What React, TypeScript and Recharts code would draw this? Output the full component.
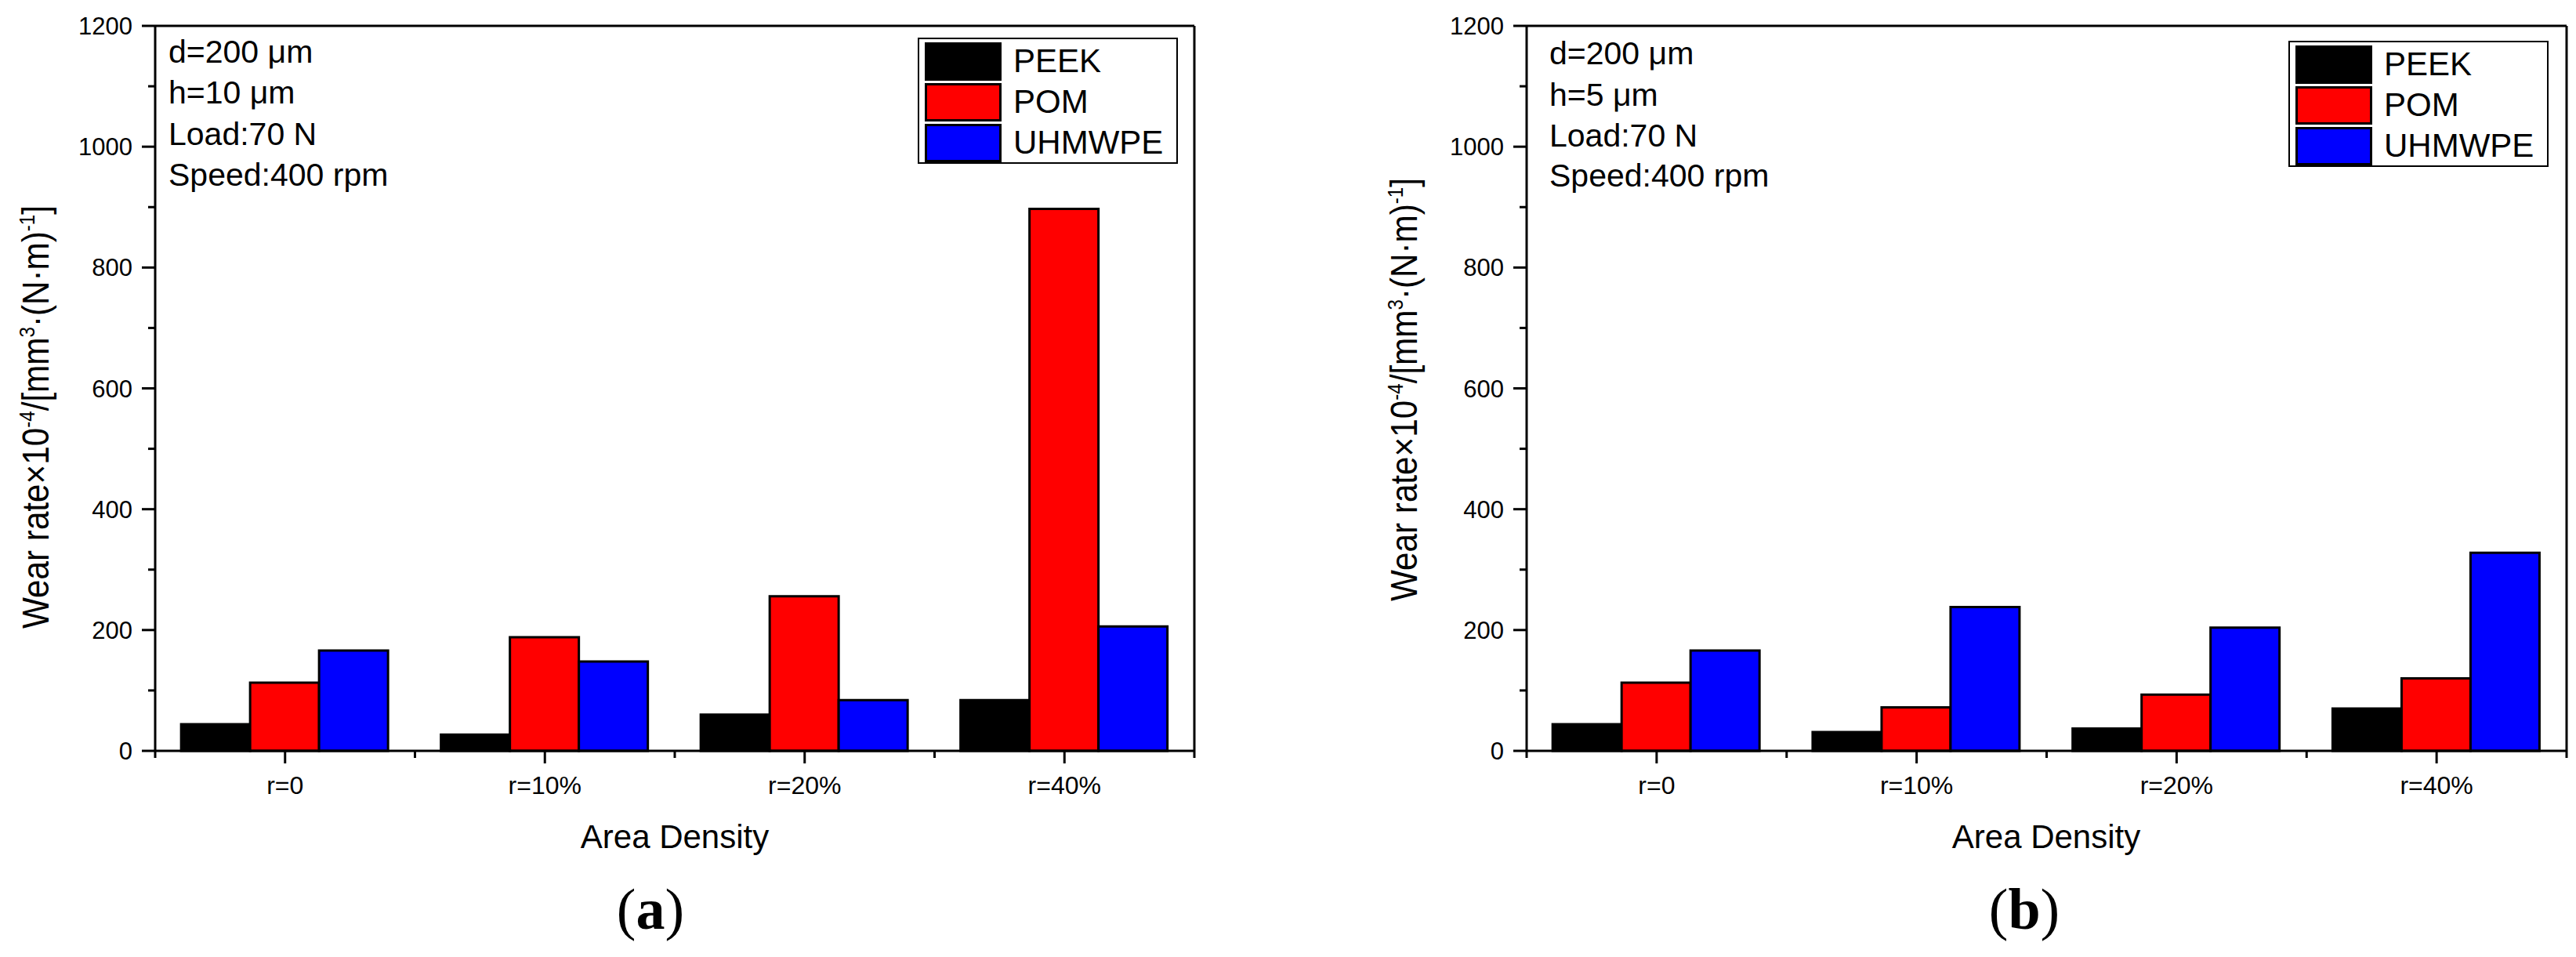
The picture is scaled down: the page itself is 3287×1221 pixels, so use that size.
import React from "react";
import { BarChart, Bar, XAxis, YAxis } from "recharts";

// categories + series
const categories = ["r=0", "r=10%", "r=20%", "r=40%"];
const seriesNames = ["PEEK", "POM", "UHMWPE"];
const seriesColors = ["#000000", "#ff0000", "#0000ff"];

// (a) h=10 μm
const peekA = [44, 27, 60, 84];
const pomA = [113, 188, 256, 897];
const uhmwpeA = [166, 148, 84, 206];

// (b) h=5 μm
const peekB = [44, 31, 37, 70];
const pomB = [113, 72, 93, 120];
const uhmwpeB = [166, 238, 204, 328];

const yTicks = [0, 100, 200, 300, 400, 500, 600, 700, 800, 900, 1000, 1100, 1200];
const yMajorStep = 200;

const notesA = ["d=200 μm", "h=10 μm", "Load:70 N", "Speed:400 rpm"];
const notesB = ["d=200 μm", "h=5 μm", "Load:70 N", "Speed:400 rpm"];

const SANS = "'Liberation Sans', Arial, sans-serif";
const SERIF = "'Liberation Serif', 'Times New Roman', serif";

const W = 3287;
const H = 1221;
const PLOT_TOP = 33;
const PLOT_BOTTOM = 958;
const Y_AXIS_W = 60;
const X_AXIS_H = 60;
const EDGE = 10; // size of the frame-only axes (top / right)

const buildRows = (s: number[][]) =>
  categories.map((cat, i) => ({
    cat,
    [seriesNames[0]]: s[0][i],
    [seriesNames[1]]: s[1][i],
    [seriesNames[2]]: s[2][i],
  }));

const YTick = (props: any) => {
  const { x, y, payload } = props;
  const major = payload.value % yMajorStep === 0;
  return (
    <g>
      <line x1={x - (major ? 17 : 9)} x2={x} y1={y} y2={y} stroke="#000" strokeWidth={3} />
      {major && (
        <text x={x - 29} y={y} dy="0.36em" textAnchor="end" fontSize={31} fontFamily={SANS} fill="#000">
          {payload.value}
        </text>
      )}
    </g>
  );
};

const makeXTick = (band: number) => (props: any) => {
  const { x, y, payload, index } = props;
  return (
    <g>
      <line x1={x} x2={x} y1={y} y2={y + 16} stroke="#000" strokeWidth={3} />
      <line x1={x - band / 2} x2={x - band / 2} y1={y} y2={y + 9} stroke="#000" strokeWidth={3} />
      {index === categories.length - 1 && (
        <line x1={x + band / 2} x2={x + band / 2} y1={y} y2={y + 9} stroke="#000" strokeWidth={3} />
      )}
      <text x={x} y={y + 55} textAnchor="middle" fontSize={32} fontFamily={SANS} fill="#000">
        {payload.value}
      </text>
    </g>
  );
};

interface PanelProps {
  left: number;
  width: number;
  plotLeft: number;
  plotRight: number;
  series: number[][];
}

function Panel({ left, width, plotLeft, plotRight, series }: PanelProps) {
  const data = buildRows(series);
  const band = (plotRight - plotLeft) / categories.length;
  const axisLine = { stroke: "#000", strokeWidth: 3 };
  return (
    <div style={{ position: "absolute", left, top: 0 }}>
      <BarChart
        width={width}
        height={H}
        data={data}
        barCategoryGap="10%"
        barGap={0}
        margin={{
          top: PLOT_TOP - EDGE,
          bottom: H - PLOT_BOTTOM - X_AXIS_H,
          left: plotLeft - left - Y_AXIS_W,
          right: left + width - plotRight - EDGE,
        }}
      >
        <XAxis
          dataKey="cat"
          height={X_AXIS_H}
          interval={0}
          tickSize={0}
          tickMargin={0}
          tickLine={false}
          axisLine={axisLine}
          tick={makeXTick(band)}
        />
        <XAxis
          xAxisId="top"
          orientation="top"
          dataKey="cat"
          height={EDGE}
          tick={false}
          tickLine={false}
          axisLine={axisLine}
        />
        <YAxis
          width={Y_AXIS_W}
          domain={[0, 1200]}
          ticks={yTicks}
          interval={0}
          tickSize={0}
          tickMargin={0}
          tickLine={false}
          axisLine={axisLine}
          tick={<YTick />}
        />
        <YAxis
          yAxisId="right"
          orientation="right"
          width={EDGE}
          domain={[0, 1200]}
          tick={false}
          tickLine={false}
          axisLine={axisLine}
        />
        {seriesNames.map((name, i) => (
          <Bar
            key={name}
            dataKey={name}
            fill={seriesColors[i]}
            stroke="#000"
            strokeWidth={3}
            isAnimationActive={false}
          />
        ))}
      </BarChart>
    </div>
  );
}

function LegendBox({ left, top }: { left: number; top: number }) {
  return (
    <div
      style={{
        position: "absolute",
        left,
        top,
        width: 332,
        height: 161,
        border: "2px solid #000",
        boxSizing: "border-box",
        background: "#fff",
      }}
    >
      {seriesNames.map((name, i) => (
        <div
          key={name}
          style={{
            position: "absolute",
            left: 7,
            top: 3 + i * 52,
            height: 50,
            display: "flex",
            alignItems: "center",
          }}
        >
          <div
            style={{
              width: 98,
              height: 49,
              background: seriesColors[i],
              border: "3px solid #000",
              boxSizing: "border-box",
            }}
          />
          <span style={{ marginLeft: 15, fontFamily: SANS, fontSize: 42, lineHeight: 1, color: "#000" }}>{name}</span>
        </div>
      ))}
    </div>
  );
}

const YLabel = ({ x, cy }: { x: number; cy: number }) => (
  <text
    transform={`translate(${x},${cy}) rotate(-90)`}
    textAnchor="middle"
    fontSize={49}
    fontFamily={SANS}
    fill="#000"
    textLength={540}
    lengthAdjust="spacingAndGlyphs"
  >
    Wear rate×10
    <tspan dy={-18} fontSize={28}>-4</tspan>
    <tspan dy={18}>/[mm</tspan>
    <tspan dy={-18} fontSize={28}>3</tspan>
    <tspan dy={18}>·(N·m)</tspan>
    <tspan dy={-18} fontSize={28}>-1</tspan>
    <tspan dy={18}>]</tspan>
  </text>
);

const Notes = ({ x, baselines, lines }: { x: number; baselines: number[]; lines: string[] }) => (
  <g>
    {lines.map((t, i) => (
      <text key={t} x={x} y={baselines[i]} fontSize={41} fontFamily={SANS} fill="#000">
        {t}
      </text>
    ))}
  </g>
);

export default function App() {
  return (
    <div style={{ position: "absolute", left: 0, top: 0, width: W, height: H, background: "#fff" }}>
      <Panel left={0} width={1640} plotLeft={198} plotRight={1524} series={[peekA, pomA, uhmwpeA]} />
      <Panel left={1640} width={1647} plotLeft={1948} plotRight={3275} series={[peekB, pomB, uhmwpeB]} />

      <svg width={W} height={H} style={{ position: "absolute", left: 0, top: 0, pointerEvents: "none" }}>
        <Notes x={215} baselines={[80, 132, 185, 237]} lines={notesA} />
        <Notes x={1977} baselines={[82, 135, 187, 238]} lines={notesB} />
        <YLabel x={62} cy={532} />
        <YLabel x={1808} cy={497} />
        <text x={861} y={1082} textAnchor="middle" fontSize={42} fontFamily={SANS} fill="#000">
          Area Density
        </text>
        <text x={2611} y={1082} textAnchor="middle" fontSize={42} fontFamily={SANS} fill="#000">
          Area Density
        </text>
        <text x={830} y={1185} textAnchor="middle" fontSize={74} fontFamily={SERIF} fill="#000">
          (<tspan fontWeight="bold">a</tspan>)
        </text>
        <text x={2583} y={1185} textAnchor="middle" fontSize={74} fontFamily={SERIF} fill="#000">
          (<tspan fontWeight="bold">b</tspan>)
        </text>
      </svg>

      <LegendBox left={1171} top={48} />
      <LegendBox left={2920} top={52} />
    </div>
  );
}
